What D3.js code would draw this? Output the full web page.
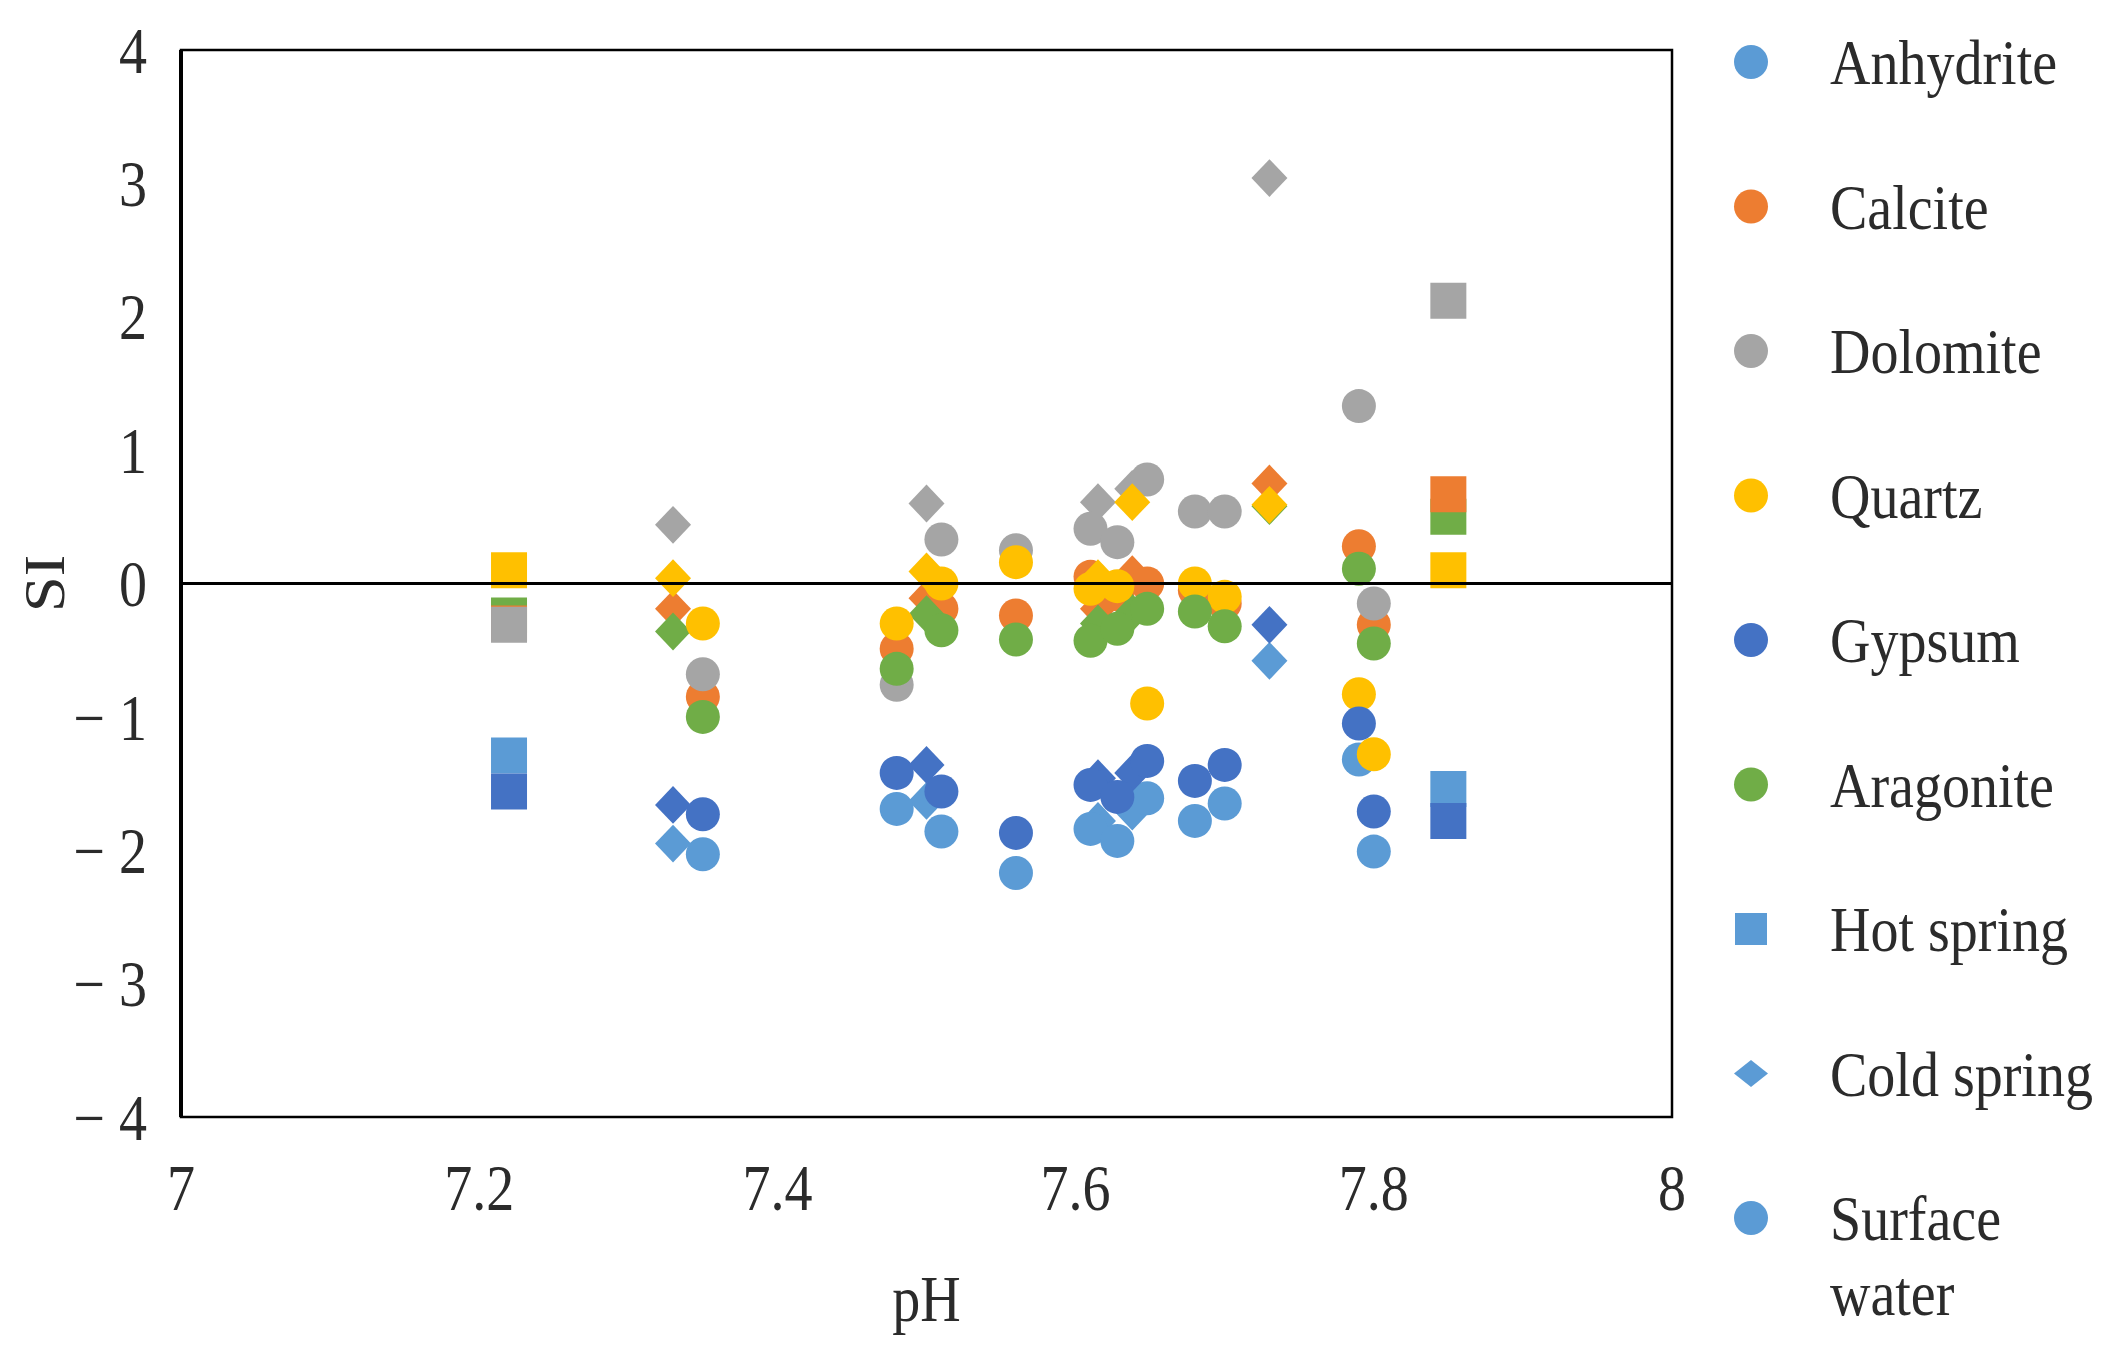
<!DOCTYPE html>
<html>
<head>
<meta charset="utf-8">
<script src="https://cdn.jsdelivr.net/npm/d3@7"></script>
<style>
  body { margin: 0; background: #fff; }
  text { font-family: "Liberation Serif", "Times New Roman", serif; }
</style>
</head>
<body>
<script>
// one entry per water sample, SI of each mineral
var ph        = [7.22, 7.33, 7.35, 7.48, 7.50, 7.51, 7.56, 7.61, 7.615, 7.628, 7.638, 7.648, 7.68, 7.70, 7.73, 7.79, 7.80, 7.85];
var waterType = ["hot", "cold", "surface", "surface", "cold", "surface", "surface", "surface", "cold", "surface", "cold", "surface", "surface", "surface", "cold", "surface", "surface", "hot"];
var anhydrite = [-1.29, -1.95, -2.03, -1.69, -1.63, -1.86, -2.17, -1.84, -1.78, -1.93, -1.71, -1.61, -1.78, -1.65, -0.58, -1.32, -2.01, -1.54];
var calcite   = [-0.30, -0.19, -0.85, -0.49, -0.11, -0.19, -0.24, 0.05, -0.19, -0.08, 0.07, 0.00, -0.05, -0.15, 0.75, 0.28, -0.31, 0.67];
var dolomite  = [-0.31, 0.44, -0.68, -0.76, 0.60, 0.33, 0.25, 0.41, 0.61, 0.31, 0.71, 0.78, 0.54, 0.54, 3.04, 1.33, -0.15, 2.12];
var quartz    = [0.10, 0.04, -0.30, -0.30, 0.09, 0.00, 0.16, -0.04, 0.04, -0.02, 0.61, -0.90, 0.00, -0.10, 0.59, -0.83, -1.28, 0.10];
var gypsum    = [-1.56, -1.66, -1.73, -1.42, -1.36, -1.56, -1.87, -1.51, -1.46, -1.60, -1.42, -1.33, -1.48, -1.36, -0.31, -1.05, -1.71, -1.78];
var aragonite = [-0.24, -0.36, -1.00, -0.64, -0.23, -0.35, -0.42, -0.43, -0.30, -0.34, -0.22, -0.19, -0.21, -0.32, 0.58, 0.11, -0.45, 0.50];

var minerals = ["Anhydrite", "Calcite", "Dolomite", "Quartz", "Gypsum", "Aragonite"];
var mineralValues = {Anhydrite: anhydrite, Calcite: calcite, Dolomite: dolomite,
                     Quartz: quartz, Gypsum: gypsum, Aragonite: aragonite};
var mineralColors = ["#5B9BD5", "#ED7D31", "#A5A5A5", "#FFC000", "#4472C4", "#70AD47"];
var typeLabels = [["Hot spring"], ["Cold spring"], ["Surface", "water"]];
var typeKeys = ["hot", "cold", "surface"];

var xTicks = [7, 7.2, 7.4, 7.6, 7.8, 8];
var yTicks = [4, 3, 2, 1, 0, -1, -2, -3, -4];

// series stacking order (excel draws each type's series in its own order)
var drawOrder = {
  hot: ["Anhydrite", "Aragonite", "Calcite", "Dolomite", "Quartz", "Gypsum"],
  cold: ["Anhydrite", "Calcite", "Dolomite", "Aragonite", "Gypsum", "Quartz"],
  surface: minerals
};

var W = 2102, H = 1357;
var margin = {top: 50, right: 430, bottom: 240, left: 181},
    width = W - margin.left - margin.right,
    height = H - margin.top - margin.bottom;

var x = d3.scaleLinear().domain([7, 8]).range([0, width]);
var y = d3.scaleLinear().domain([-4, 4]).range([height, 0]);
var color = d3.scaleOrdinal().domain(minerals).range(mineralColors);

var svg = d3.select("body").append("svg")
    .attr("width", W)
    .attr("height", H)
    .style("background", "#fff");

var g = svg.append("g")
    .attr("transform", "translate(" + margin.left + "," + margin.top + ")");

function markerPath(type, s) {
  if (type == "hot") {
    return "M" + (-s) + "," + (-s) + "H" + s + "V" + s + "H" + (-s) + "Z";
  }
  if (type == "cold") {
    return "M0," + (-s * 1.05) + "L" + s + ",0L0," + (s * 1.05) + "L" + (-s) + ",0Z";
  }
  return d3.arc()({innerRadius: 0, outerRadius: s, startAngle: 0, endAngle: 2 * Math.PI});
}
var markerSize = {hot: 18, cold: 18, surface: 17};

// scaled text: the source text is taller than it is wide
function label(sel, tx, ty, str, anchor, size, sy) {
  return sel.append("text")
      .attr("transform", "translate(" + tx + "," + ty + ") scale(1," + sy + ")")
      .attr("text-anchor", anchor)
      .attr("dy", "0.35em")
      .attr("font-size", size + "px")
      .attr("fill", "#2b2b2b")
      .text(str);
}

// points
var points = [];
typeKeys.forEach(function(t) {
  drawOrder[t].forEach(function(m) {
    ph.forEach(function(p, i) {
      if (waterType[i] == t) points.push({ph: p, si: mineralValues[m][i], type: t, mineral: m});
    });
  });
});
// draw by mineral layer so the stacking looks like the source
var layerRank = function(d) { return drawOrder[d.type].indexOf(d.mineral); };
points.sort(function(a, b) { return layerRank(a) - layerRank(b); });

g.selectAll(".pt")
    .data(points)
  .enter().append("path")
    .attr("class", "pt")
    .attr("d", function(d) { return markerPath(d.type, markerSize[d.type]); })
    .attr("transform", function(d) { return "translate(" + x(d.ph) + "," + y(d.si) + ")"; })
    .attr("fill", function(d) { return color(d.mineral); });

// zero line
g.append("line")
    .attr("x1", 0).attr("x2", width)
    .attr("y1", y(0)).attr("y2", y(0))
    .attr("stroke", "#000")
    .attr("stroke-width", 3);

// frame
g.append("rect")
    .attr("width", width).attr("height", height)
    .attr("fill", "none")
    .attr("stroke", "#000")
    .attr("stroke-width", 2.5);
g.append("line")
    .attr("x1", 0).attr("x2", 0).attr("y1", 0).attr("y2", height)
    .attr("stroke", "#000").attr("stroke-width", 4);

// tick labels
xTicks.forEach(function(t) {
  label(g, x(t), height + 70, d3.format("")(t), "middle", 56, 1.16);
});
yTicks.forEach(function(t) {
  var s = t < 0 ? "\u2212 " + (-t) : String(t);
  label(g, -34, y(t), s, "end", 56, 1.16);
});

// axis titles
label(g, width / 2, height + 181, "pH", "middle", 56, 1.16);
svg.append("text")
    .attr("transform", "translate(44," + (margin.top + y(0)) + ") rotate(-90) scale(1.16,1)")
    .attr("text-anchor", "middle")
    .attr("dy", "0.35em")
    .attr("font-size", "56px")
    .attr("fill", "#2b2b2b")
    .text("SI");

// legend
var legX = 1751, textX = 1830, legY0 = 62, legStep = 144.5;
var legend = svg.append("g");
minerals.forEach(function(m, i) {
  var ly = legY0 + i * legStep;
  legend.append("path")
      .attr("d", markerPath("surface", 17))
      .attr("transform", "translate(" + legX + "," + ly + ")")
      .attr("fill", color(m));
  label(legend, textX, ly, m, "start", 56, 1.13);
});
typeKeys.forEach(function(t, j) {
  var ly = legY0 + (minerals.length + j) * legStep;
  legend.append("path")
      .attr("d", markerPath(t, t == "hot" ? 16 : 17))
      .attr("transform", "translate(" + legX + "," + ly + ")" + (t == "cold" ? " scale(1,0.75)" : ""))
      .attr("fill", "#5B9BD5");
  typeLabels[j].forEach(function(line, k) {
    label(legend, textX, ly + k * 75, line, "start", 56, 1.13);
  });
});
</script>
</body>
</html>
